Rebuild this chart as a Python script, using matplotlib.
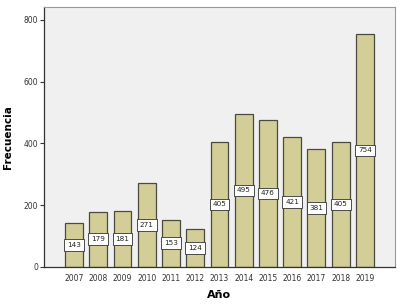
import matplotlib
matplotlib.use("Agg")
import matplotlib.pyplot as plt

years = ["2007", "2008", "2009", "2010", "2011", "2012", "2013", "2014", "2015", "2016", "2017", "2018", "2019"]
counts = [143, 179, 181, 271, 153, 124, 405, 495, 476, 421, 381, 405, 754]
yticks = [0, 200, 400, 600, 800]

fig = plt.figure(figsize=(4.01, 3.06), dpi=100)
ax = fig.add_axes([0.1097, 0.1275, 0.8753, 0.8495])
ax.set_facecolor("#f0f0f0")
x = list(range(len(years)))
ax.bar(x, counts, width=0.74, color="#d3ce97", edgecolor="#4a4a40", linewidth=0.9, zorder=2)
for xi, v in zip(x, counts):
    ax.text(xi, v / 2, str(v), ha="center", va="center", fontsize=5.2, color="#222222", zorder=3,
            bbox=dict(boxstyle="square,pad=0.4", facecolor="white", edgecolor="#333333", linewidth=0.6))
ax.set_xlim(-1.24, 13.24)
ax.set_ylim(0, 841)
ax.set_xticks(x)
ax.set_xticklabels(years, fontsize=5.5, color="#333333")
ax.set_yticks(yticks)
ax.set_yticklabels([str(t) for t in yticks], fontsize=5.5, color="#333333")
ax.tick_params(axis="x", length=0, pad=5)
ax.tick_params(axis="y", length=3, width=0.8, color="#333333", pad=1)
for side in ["top", "right"]:
    ax.spines[side].set_color("#999999")
    ax.spines[side].set_linewidth(0.8)
for side in ["left", "bottom"]:
    ax.spines[side].set_color("#333333")
    ax.spines[side].set_linewidth(0.9)
ax.set_xlabel("Año", fontsize=8, fontweight="bold", labelpad=5)
ax.set_ylabel("Frecuencia", fontsize=7.5, fontweight="bold", labelpad=8)
fig.savefig("out.png", dpi=100, facecolor="white")
